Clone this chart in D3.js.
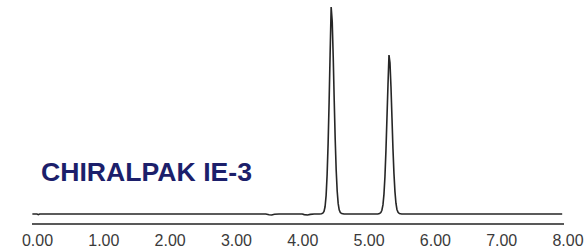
<!DOCTYPE html>
<html>
<head>
<meta charset="utf-8">
<script src="https://cdn.jsdelivr.net/npm/d3@7"></script>
<style>
  body { margin: 0; background: #fff; }
  .trace { fill: none; stroke: #262626; stroke-width: 1.6; }
  .tickText { font-family: "Liberation Sans", Arial, sans-serif; font-size: 16px; fill: #3a3a3a; }
  .colLabel { font-family: "Liberation Sans", Arial, sans-serif; font-weight: bold; font-size: 25px; fill: #1c1f6b; }
</style>
</head>
<body>
<div id="chart"></div>
<script>
// retention time (min) and detector signal
var traceTime = [
    -0.07, 0.00, 0.02, 0.04, 3.45, 3.50, 3.54, 3.58, 3.65, 4.00, 4.03, 4.08, 4.12, 4.18, 4.26,
    4.290, 4.310, 4.328, 4.344, 4.360, 4.375, 4.390, 4.405, 4.420, 4.436,
    4.452, 4.467, 4.482, 4.497, 4.512, 4.527, 4.542, 4.557, 4.574, 4.595, 4.63,
    5.14, 5.165, 5.185, 5.201, 5.217, 5.232, 5.247, 5.262, 5.277, 5.293, 5.308,
    5.323, 5.338, 5.353, 5.368, 5.383, 5.398, 5.413, 5.428, 5.445, 5.465, 5.50, 7.92
];
var traceSignal = [
    0, 0, -3, 0, 0, -4, -5, -1, 0, 0, -3, -5, -2, 0, 0,
    1, 4, 12, 35, 90, 190, 340, 540, 770, 1000,
    930, 760, 550, 360, 210, 110, 50, 20, 7, 2, 0,
    0, 2, 7, 18, 44, 95, 180, 305, 460, 625, 768,
    730, 615, 465, 315, 195, 108, 52, 22, 8, 2, 0, 0
];
var tickValues = [0, 1, 2, 3, 4, 5, 6, 7, 8];
var columnName = "CHIRALPAK IE-3";

var svgWidth = 584;
var svgHeight = 250;

var svg = d3.select("#chart")
    .append("svg")
    .attr("width", svgWidth)
    .attr("height", svgHeight);

var xScale = d3.scaleLinear()
    .domain([0, 8])
    .range([37, 567.5]);

var yScale = d3.scaleLinear()
    .domain([0, 1000])
    .range([214, 7]);

var axisY = 224;

// axis line (slightly offset from the labels, as in the original)
svg.append("line")
    .attr("x1", 32)
    .attr("x2", 564)
    .attr("y1", axisY)
    .attr("y2", axisY)
    .attr("stroke", "#222")
    .attr("stroke-width", 1.5);

var xAxis = d3.axisBottom(xScale)
    .tickValues(tickValues)
    .tickSize(0)
    .tickPadding(11)
    .tickFormat(d3.format(".2f"));

var axisGroup = svg.append("g")
    .attr("transform", `translate(0, ${axisY})`)
    .call(xAxis);
axisGroup.select(".domain").remove();
axisGroup.attr("font-size", null).attr("font-family", null);
axisGroup.selectAll("text")
    .attr("class", "tickText")
    .attr("fill", null);

// chromatogram trace
var traceData = traceTime.map((t, i) => ({ t: t, v: traceSignal[i] }));
var line = d3.line()
    .x(d => xScale(d.t))
    .y(d => yScale(d.v));

svg.append("path")
    .datum(traceData)
    .attr("class", "trace")
    .attr("d", line);

// column label
svg.append("text")
    .attr("class", "colLabel")
    .attr("x", 41)
    .attr("y", 181)
    .attr("textLength", 211)
    .attr("lengthAdjust", "spacingAndGlyphs")
    .text(columnName);
</script>
</body>
</html>
